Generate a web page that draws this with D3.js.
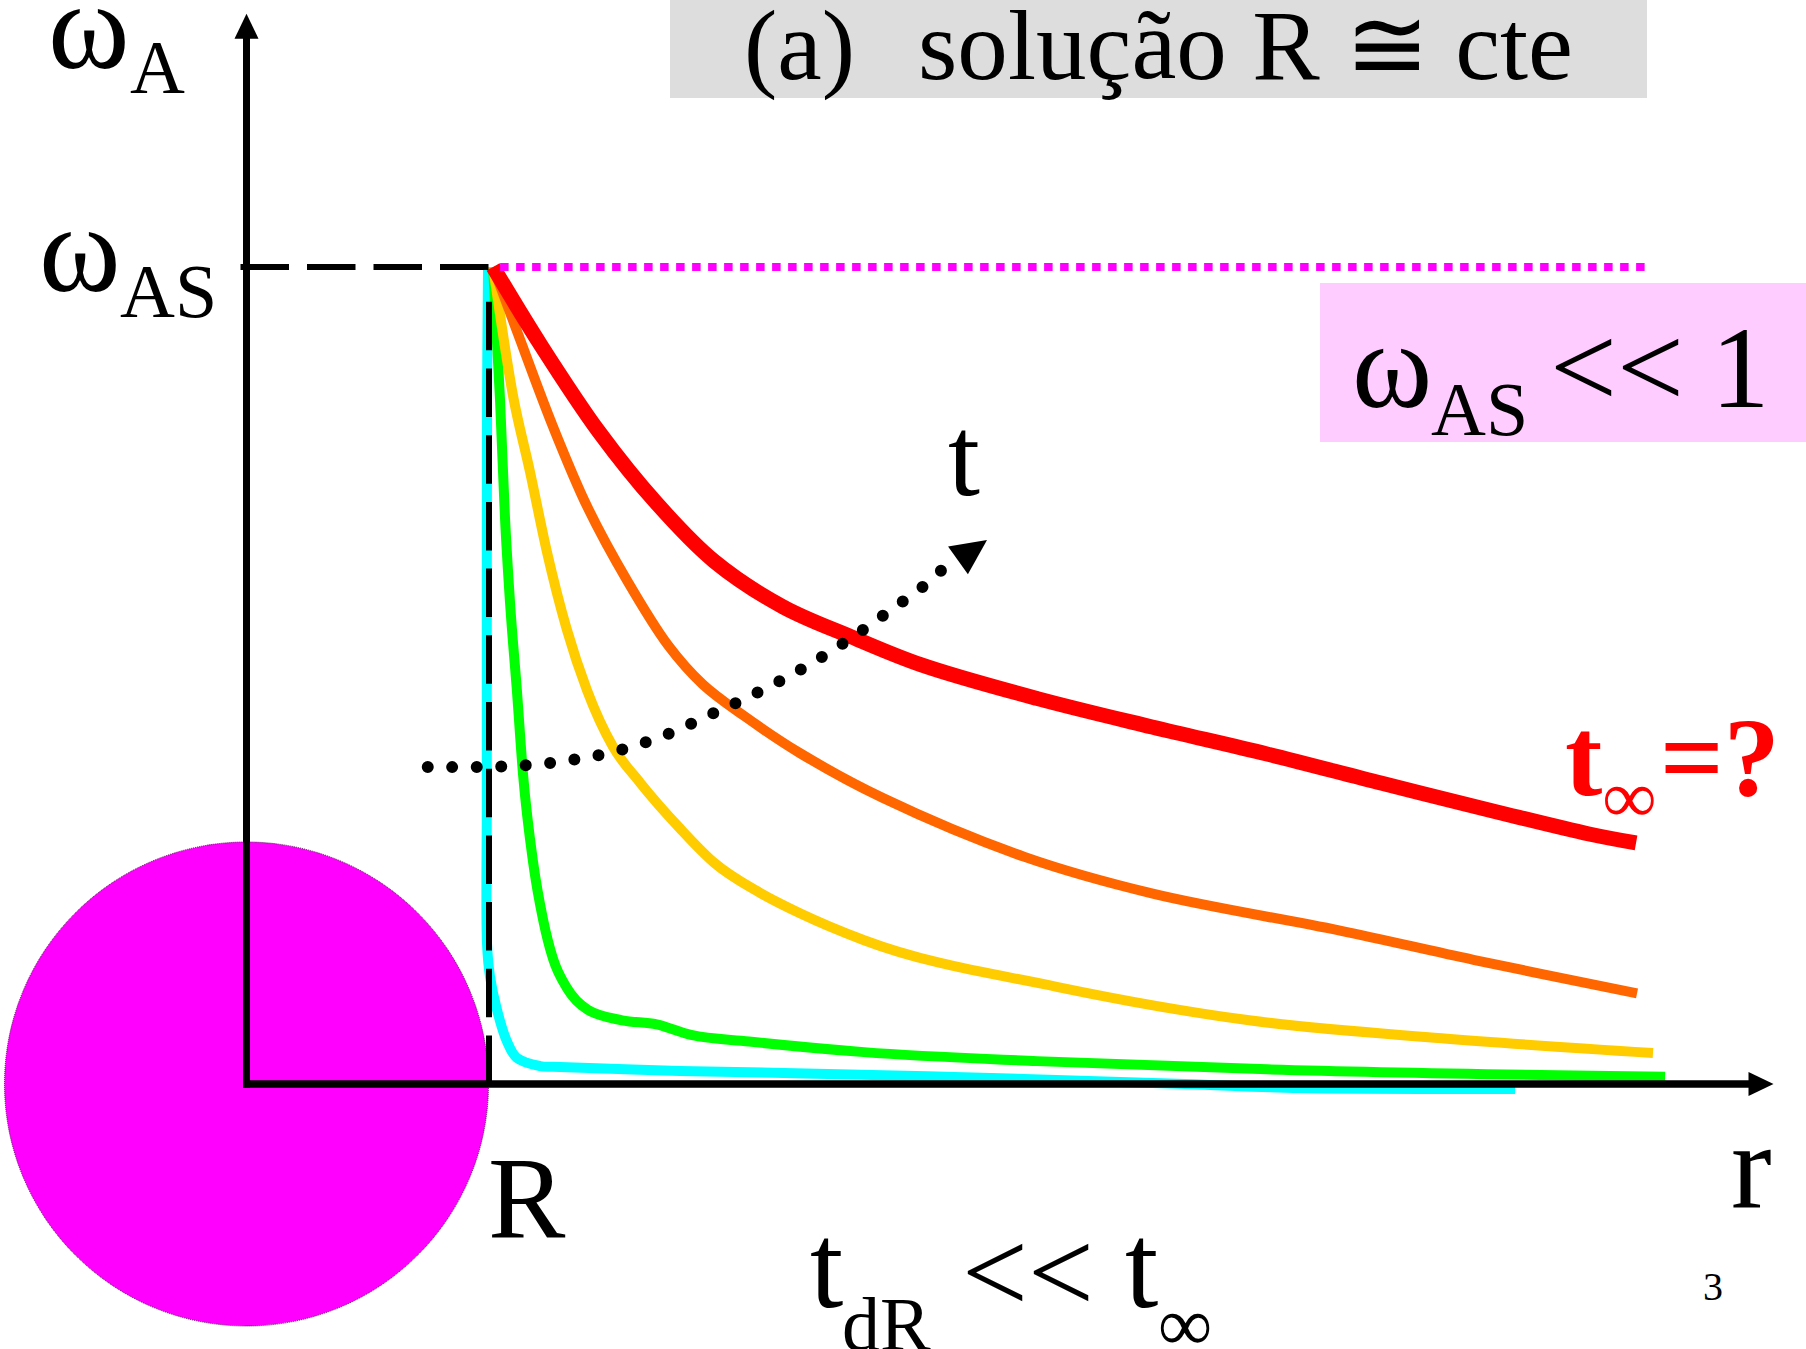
<!DOCTYPE html>
<html>
<head>
<meta charset="utf-8">
<script src="https://cdn.jsdelivr.net/npm/d3@7"></script>
<style>
  html, body { margin: 0; padding: 0; background: #fff; }
  svg { display: block; }
</style>
</head>
<body>
<svg width="1806" height="1349"></svg>
<script>
// r em unidades de R, omega em unidades de omega_AS
const R = 1, wAS = 1;
const rMax = 6.31, wMax = 1.31;

// perfis omega_A(r) em tempos crescentes
const cyanCurve = [[0.998,1.000],[0.994,0.837],[0.993,0.592],[0.993,0.348],[0.994,0.171],[1.006,0.132],
  [1.034,0.092],[1.075,0.053],[1.117,0.032],[1.213,0.022],[1.267,0.021],[1.791,0.016],[2.312,0.013],
  [3.114,0.007],[3.878,0.000],[4.353,-0.005],[5.242,-0.006]];
const greenCurve = [[1.019,0.999],[1.048,0.835],[1.068,0.694],[1.089,0.589],[1.117,0.483],[1.143,0.378],
  [1.184,0.272],[1.225,0.202],[1.267,0.153],[1.323,0.118],[1.410,0.091],[1.552,0.078],[1.695,0.073],
  [1.837,0.060],[2.076,0.052],[2.552,0.039],[3.267,0.028],[4.217,0.018],[5.862,0.009]];
const yellowCurve = [[1.019,1.000],[1.101,0.843],[1.171,0.750],[1.241,0.652],[1.324,0.556],[1.407,0.482],
  [1.514,0.413],[1.626,0.369],[1.791,0.313],[1.932,0.271],[2.122,0.234],[2.287,0.209],[2.552,0.176],
  [3.348,0.119],[4.143,0.078],[4.938,0.056],[5.812,0.038]];
const orangeCurve = [[1.019,1.000],[1.122,0.918],[1.266,0.805],[1.409,0.706],[1.575,0.615],[1.742,0.537],
  [1.886,0.489],[2.054,0.451],[2.287,0.405],[2.630,0.350],[3.215,0.278],[3.745,0.233],[4.514,0.188],
  [5.070,0.152],[5.746,0.111]];
const redCurve = [[1.019,1.000],[1.217,0.904],[1.457,0.798],[1.694,0.711],[1.932,0.640],[2.217,0.584],
  [2.502,0.547],[2.789,0.513],[3.265,0.472],[3.742,0.437],[4.217,0.404],[4.692,0.368],[5.167,0.333],
  [5.548,0.306],[5.742,0.295]];

// seta pontilhada "t"
const timeArrow = [[0.749,0.388],[0.951,0.388],[1.151,0.390],[1.352,0.397],[1.548,0.409],[1.739,0.428],
  [1.924,0.453],[2.097,0.477],[2.288,0.507],[2.469,0.540],[2.647,0.577],[2.804,0.611],[2.919,0.642]];
const timeArrowHead = [[3.060,0.666],[2.899,0.658],[2.981,0.624]];

const limitLine = [1.048, 5.791];   // omega_AS pontilhado (r inicial, r final)
const dashTop = [1, -0.025];        // tracejado horizontal em omega_AS
const dashSide = [0, 0.972];        // tracejado vertical em r = R

const svg = d3.select("svg");
const x = d3.scaleLinear().domain([0, R]).range([246.5, 488.5]);
const y = d3.scaleLinear().domain([0, wAS]).range([1084, 267]);

// caixas de fundo
svg.append("rect").attr("x", 670).attr("y", 0).attr("width", 977).attr("height", 98).attr("fill", "#dddddd");
svg.append("rect").attr("x", 1320).attr("y", 283).attr("width", 486).attr("height", 159).attr("fill", "#ffccff");

// esfera
svg.append("circle")
  .attr("cx", x(0)).attr("cy", y(0)).attr("r", x(R) - x(0))
  .attr("fill", "#ff00ff")
  .attr("stroke", "#5a005a").attr("stroke-width", 1).attr("stroke-dasharray", "1 1");

const smooth = d3.line().x(d => x(d[0])).y(d => y(d[1])).curve(d3.curveMonotoneX);
const line = d3.line().x(d => x(d[0])).y(d => y(d[1])).curve(d3.curveCatmullRom.alpha(0.5));

const curves = [
  {data: cyanCurve, color: "#00ffff", width: 10, gen: line},
  {data: greenCurve, color: "#00ff00", width: 10, gen: smooth},
  {data: yellowCurve, color: "#ffcc00", width: 10, gen: smooth},
  {data: orangeCurve, color: "#ff6600", width: 10, gen: line},
  {data: redCurve, color: "#ff0000", width: 15, gen: line}
];
svg.selectAll(".perfil").data(curves).enter().append("path")
  .attr("class", "perfil")
  .attr("d", d => d.gen(d.data))
  .attr("fill", "none")
  .attr("stroke", d => d.color)
  .attr("stroke-width", d => d.width)
  .attr("stroke-linejoin", "round");

// omega_AS pontilhado magenta
svg.append("line")
  .attr("x1", x(limitLine[0])).attr("x2", x(limitLine[1]))
  .attr("y1", y(wAS)).attr("y2", y(wAS))
  .attr("stroke", "#ff00ff").attr("stroke-width", 8).attr("stroke-dasharray", "8.5 7.5");

// tracejados pretos
svg.append("line")
  .attr("x1", x(dashTop[0])).attr("x2", x(dashTop[1]))
  .attr("y1", y(wAS)).attr("y2", y(wAS))
  .attr("stroke", "#000").attr("stroke-width", 6).attr("stroke-dasharray", "48.5 18");
svg.append("line")
  .attr("x1", x(R) + 0.5).attr("x2", x(R) + 0.5)
  .attr("y1", y(dashSide[0])).attr("y2", y(dashSide[1]))
  .attr("stroke", "#000").attr("stroke-width", 6).attr("stroke-dasharray", "48.5 18.2");

// eixos
svg.append("line").attr("x1", x(0)).attr("x2", x(0)).attr("y1", y(0) + 4).attr("y2", y(wMax) + 20)
  .attr("stroke", "#000").attr("stroke-width", 7);
svg.append("path")
  .attr("d", `M${x(0)},${y(wMax)} L${x(0) - 12},${y(wMax) + 25} L${x(0) + 12},${y(wMax) + 25} Z`)
  .attr("fill", "#000");
svg.append("line").attr("x1", x(0) - 3).attr("x2", x(rMax) - 20).attr("y1", y(0)).attr("y2", y(0))
  .attr("stroke", "#000").attr("stroke-width", 7.5);
svg.append("path")
  .attr("d", `M${x(rMax)},${y(0)} L${x(rMax) - 25},${y(0) - 12} L${x(rMax) - 25},${y(0) + 12} Z`)
  .attr("fill", "#000");

// seta do tempo
svg.append("path")
  .attr("d", line(timeArrow))
  .attr("fill", "none").attr("stroke", "#000").attr("stroke-width", 12)
  .attr("stroke-linecap", "round").attr("stroke-dasharray", "0 24.5");
svg.append("path")
  .attr("d", "M" + timeArrowHead.map(p => x(p[0]) + "," + y(p[1])).join("L") + "Z")
  .attr("fill", "#000");

// textos
function label(px, py, txt, size, opts = {}) {
  const t = svg.append("text")
    .attr("x", px).attr("y", py)
    .attr("font-size", size)
    .attr("fill", opts.color || "#000")
    .attr("font-weight", opts.bold ? "bold" : "normal")
    .style("font-family", '"Liberation Serif", "Times New Roman", serif')
    .text(txt);
  if (opts.len) t.attr("textLength", opts.len).attr("lengthAdjust", "spacingAndGlyphs");
  return t;
}

label(744, 79, "(a)", 100);
label(918, 79, "solução R ≅ cte", 100, {len: 655});

label(48, 68, "ω", 124);
label(130, 93, "A", 76);
label(39, 291, "ω", 124);
label(120, 317, "AS", 76);

label(1352, 407, "ω", 122);
label(1431, 435, "AS", 76);
label(1550, 407, "<<", 118, {len: 134});
label(1711, 407, "1", 117);

label(948, 495, "t", 115);

label(1565, 795, "t", 112, {color: "#ff0000", bold: true});
label(1603, 822, "∞", 74, {color: "#ff0000", bold: true});
label(1660, 795, "=?", 112, {color: "#ff0000", bold: true});

label(488, 1238, "R", 116);
label(1731, 1208, "r", 122);

label(810, 1307, "t", 120);
label(842, 1350, "dR", 76);
label(962, 1312, "<<", 118, {len: 132});
label(1125, 1307, "t", 120);
label(1158, 1350, "∞", 76);

label(1703, 1300, "3", 40);
</script>
</body>
</html>
